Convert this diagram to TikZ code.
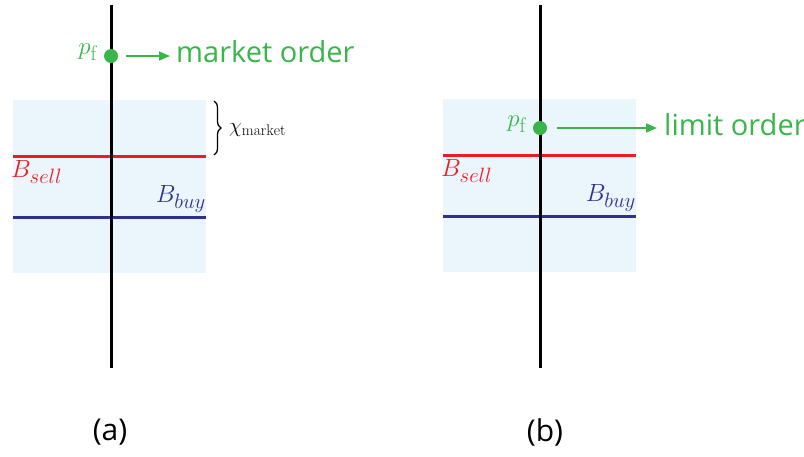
\documentclass[tikz,border=0pt]{standalone}
\usepackage{fontspec}
\newfontfamily\sansf{Open Sans}
\usetikzlibrary{arrows.meta,decorations.pathreplacing}
\definecolor{zone}{HTML}{EAF6FB}
\definecolor{sellred}{HTML}{ED1C24}
\definecolor{buyblue}{HTML}{2E3192}
\definecolor{pgreen}{HTML}{39B54A}
\tikzset{
  axis/.style={line width=3pt, black},
  zonebox/.style={fill=zone, draw=none},
  sellline/.style={line width=3pt, sellred},
  buyline/.style={line width=3pt, buyblue},
  dot/.style={circle, fill=pgreen, inner sep=0pt, minimum size=14pt},
  greenarrow/.style={pgreen, line width=1.6pt, -{Stealth[length=11pt,width=9pt,inset=0pt]}},
  mlabel/.style={inner sep=0pt, font=\fontsize{28}{30}\selectfont},
  pflabel/.style={inner sep=0pt, pgreen, anchor=east, font=\fontsize{30}{32}\selectfont},
  otext/.style={pgreen, inner sep=0pt, anchor=west, font=\sansf\fontsize{29}{32}\selectfont},
  caption/.style={inner sep=0pt, font=\sansf\fontsize{30}{34}\selectfont},
}
\begin{document}
\begin{tikzpicture}[x=1pt,y=-1pt]
\useasboundingbox (0,0) rectangle (804,456);
% ---------- (a) ----------
\fill[zonebox] (13,100) rectangle (206,273);
\coordinate (atop) at (111,5);
\coordinate (abot) at (111,368);
\coordinate (asl) at (13,156);
\coordinate (asr) at (206,156);
\coordinate (abl) at (13,217);
\coordinate (abr) at (206,217);
\draw[sellline] (asl) -- (asr);
\draw[buyline] (abl) -- (abr);
\draw[axis] (atop) -- (abot);
\node[dot] (adot) at (111,56) {};
\node[pflabel] (apf) at (97,52) {$p_{\mathrm{f}}$};
\node[otext] (amo) at (176,52) {market order};
\coordinate (aas) at (126,56);
\coordinate (aae) at (170,56);
\draw[greenarrow] (aas) -- (aae);
\node[mlabel, sellred, anchor=north west] (asell) at (11,160) {$B_{sell}$};
\node[mlabel, buyblue, anchor=south east] (abuy) at (206,213) {$B_{buy}$};
\coordinate (brt) at (214,101);
\coordinate (brb) at (214,155);
\draw[decorate, decoration={brace, amplitude=7pt}, line width=1.3pt] (brt) -- (brb);
\node[inner sep=0pt, anchor=west, font=\fontsize{22}{24}\selectfont] (chi) at (229,130) {$\chi_{\mathrm{market}}$};
\node[caption] (capa) at (110,432) {(a)};
% ---------- (b) ----------
\fill[zonebox] (443,99) rectangle (636,272);
\coordinate (btop) at (540,5);
\coordinate (bbot) at (540,368);
\coordinate (bsl) at (443,155);
\coordinate (bsr) at (636,155);
\coordinate (bbl) at (443,216);
\coordinate (bbr) at (636,216);
\draw[sellline] (bsl) -- (bsr);
\draw[buyline] (bbl) -- (bbr);
\draw[axis] (btop) -- (bbot);
\node[dot] (bdot) at (540,128) {};
\node[pflabel] (bpf) at (526,124) {$p_{\mathrm{f}}$};
\node[otext] (blo) at (664,125) {limit order};
\coordinate (bas) at (557,128);
\coordinate (bae) at (657,128);
\draw[greenarrow] (bas) -- (bae);
\node[mlabel, sellred, anchor=north west] (bsell) at (441,159) {$B_{sell}$};
\node[mlabel, buyblue, anchor=south east] (bbuy) at (636,212) {$B_{buy}$};
\node[caption] (capb) at (545,432) {(b)};
\end{tikzpicture}
\end{document}
